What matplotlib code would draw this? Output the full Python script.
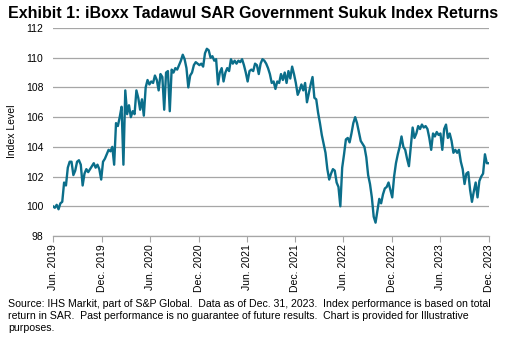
import matplotlib
matplotlib.use("Agg")
import matplotlib.pyplot as plt
import pandas as pd

plt.rcParams['font.family'] = ['Liberation Sans', 'DejaVu Sans']

title = "Exhibit 1: iBoxx Tadawul SAR Government Sukuk Index Returns"
y_label = "Index Level"
footnote = ("Source: IHS Markit, part of S&P Global.  Data as of Dec. 31, 2023.  Index performance is based on total\n"
            "return in SAR.  Past performance is no guarantee of future results.  Chart is provided for Illustrative\n"
            "purposes.")

start_date = "2019-06-30"
index_level = [
    100.0, 99.9, 100.1, 99.8, 100.2, 100.3, 101.6, 101.4, 102.6, 103.0,
    103.0, 102.1, 102.4, 103.0, 103.1, 102.8, 101.4, 102.2, 102.5, 102.3,
    102.5, 102.7, 102.9, 102.6, 102.8, 102.5, 101.8, 103.0, 103.2, 103.5,
    103.8, 103.7, 104.0, 102.8, 105.6, 105.4, 106.0, 106.7, 102.8, 107.8,
    106.2, 106.8, 106.0, 106.4, 106.2, 107.8, 107.3, 106.5, 107.2, 106.1,
    108.0, 108.5, 108.2, 108.4, 108.3, 108.8, 108.5, 107.8, 108.9, 108.7,
    106.5, 109.0, 109.1, 106.4, 109.2, 109.0, 109.3, 109.2, 109.5, 109.8,
    110.2, 109.9, 109.3, 108.0, 108.8, 109.0, 109.5, 109.7, 109.6, 109.5,
    109.6, 109.4, 110.3, 110.6, 110.5, 110.0, 110.1, 109.8, 109.9, 108.2,
    109.0, 109.3, 108.4, 109.0, 109.3, 109.1, 109.9, 109.6, 109.8, 109.6,
    109.8, 109.7, 109.9, 109.5, 109.0, 108.4, 109.1, 109.2, 109.1, 109.6,
    109.5, 108.9, 109.6, 109.9, 109.8, 109.6, 109.3, 108.9, 108.3, 108.4,
    107.9, 108.4, 108.3, 108.9, 108.5, 109.0, 108.3, 109.1, 108.6, 109.4,
    108.9, 108.3, 107.5, 107.8, 108.2, 107.8, 108.3, 107.0, 107.6, 108.2,
    108.7, 107.3, 107.2, 106.3, 105.6, 104.8, 104.2, 103.6, 102.5, 101.8,
    102.2, 102.5, 102.4, 101.6, 101.3, 100.0, 102.6, 103.5, 104.5, 104.6,
    104.3, 104.9, 105.6, 106.0, 105.6, 105.0, 104.4, 104.2, 104.0, 103.3,
    102.1, 101.5, 100.6, 99.3, 98.9, 99.7, 100.5, 100.2, 100.8, 101.2,
    101.3, 101.6, 101.1, 100.6, 102.0, 102.9, 103.5, 104.0, 104.7, 104.0,
    103.8, 103.2, 102.7, 104.0, 105.3, 104.6, 104.9, 105.4, 105.2, 105.5,
    105.3, 105.4, 105.2, 104.6, 103.8, 104.9, 104.7, 105.0, 104.8, 104.9,
    103.8, 105.2, 105.5, 104.6, 104.9, 104.4, 103.6, 103.8, 103.6, 103.8,
    103.0, 102.5, 101.5, 102.2, 102.3, 101.1, 100.3, 101.0, 101.6, 100.6,
    101.7, 102.0, 102.2, 103.5, 102.9, 102.9,
]
tick_dates = ["2019-06-30", "2019-12-31", "2020-06-30", "2020-12-31", "2021-06-30",
              "2021-12-31", "2022-06-30", "2022-12-31", "2023-06-30", "2023-12-31"]
tick_labels = ["Jun. 2019", "Dec. 2019", "Jun. 2020", "Dec. 2020", "Jun. 2021",
               "Dec. 2021", "Jun. 2022", "Dec. 2022", "Jun. 2023", "Dec. 2023"]
y_ticks = [98, 100, 102, 104, 106, 108, 110, 112]

dates = pd.date_range(start_date, periods=len(index_level), freq="7D")

fig = plt.figure(figsize=(5.06, 3.52), dpi=100)
ax = fig.add_axes([0.1047, 0.3295, 0.861, 0.591])

line_color = "#0b6e8a"
grid_color = "#a6a6a6"

ax.plot(dates, index_level, color=line_color, lw=1.7, solid_joinstyle="round")

ax.set_xlim(pd.Timestamp(tick_dates[0]), pd.Timestamp(tick_dates[-1]))
ax.set_ylim(98, 112)
ax.set_yticks(y_ticks)
ax.set_yticklabels([str(v) for v in y_ticks], fontsize=7.5)
ax.set_xticks([pd.Timestamp(d) for d in tick_dates])
ax.set_xticklabels(tick_labels, rotation=90, fontsize=7.5)

ax.grid(axis="y", color=grid_color, lw=0.9)
ax.set_axisbelow(True)
for s in ["left", "right", "top"]:
    ax.spines[s].set_visible(False)
ax.spines["bottom"].set_color(grid_color)
ax.spines["bottom"].set_linewidth(0.9)
ax.tick_params(axis="y", length=0, pad=7)
ax.tick_params(axis="x", length=4, color=grid_color, pad=2)

ax.set_ylabel(y_label, fontsize=7.5)
ax.yaxis.set_label_coords(-0.0826, 0.505)

fig.text(0.016, 0.983, title, fontsize=11.5, fontweight="bold", ha="left", va="top")
fig.text(0.016, 1 - 299 / 352, footnote, fontsize=7.6, ha="left", va="top", linespacing=1.28)

fig.savefig("out.png", dpi=100)
